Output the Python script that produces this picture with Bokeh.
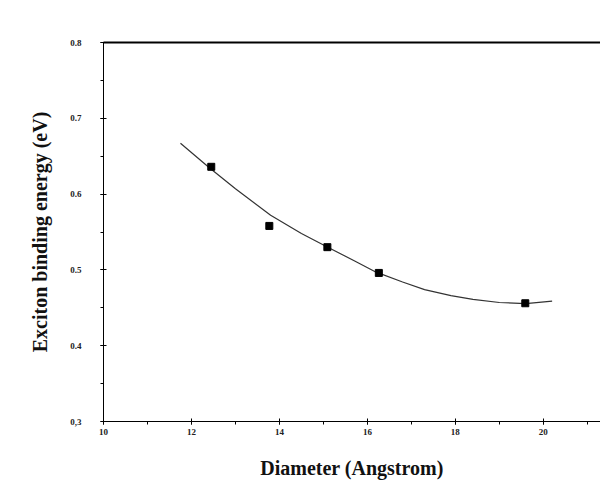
from bokeh.plotting import figure
from bokeh.models import Range1d, FixedTicker, LinearAxis
from bokeh.embed import file_html
from bokeh.resources import INLINE

# Measured data points
diameter = [12.45, 13.77, 15.09, 16.26, 19.59]
energy = [0.636, 0.558, 0.530, 0.496, 0.456]

# Fitted curve
fit_x = [11.75, 12.4, 13.0, 13.8, 14.5, 15.1, 15.7, 16.2, 16.8, 17.3, 17.9, 18.4, 19.0, 19.6, 20.2]
fit_y = [0.667, 0.635, 0.607, 0.572, 0.548, 0.530, 0.512, 0.497, 0.484, 0.474, 0.466, 0.461, 0.457, 0.4555, 0.4587]

x_ticks = [10, 12, 14, 16, 18, 20]
y_ticks = [0.3, 0.4, 0.5, 0.6, 0.7, 0.8]

FONT = "Liberation Serif"

p = figure(width=600, height=481, output_backend="svg", toolbar_location=None,
           x_range=Range1d(10, 21.3), y_range=Range1d(0.3, 0.8),
           min_border_left=103, min_border_right=0, min_border_top=42, min_border_bottom=0)
p.outline_line_color = None
p.grid.visible = False
p.background_fill_color = "white"

p.line(fit_x, fit_y, line_color="#333333", line_width=1.2)
p.scatter(diameter, energy, marker="square", size=7, color="black")

for ax in (p.xaxis[0], p.yaxis[0]):
    ax.axis_line_color = "black"
    ax.axis_line_width = 1
    ax.major_tick_in = 3
    ax.major_tick_out = 3
    ax.minor_tick_in = 0
    ax.minor_tick_out = 3
    ax.major_label_text_font = FONT
    ax.major_label_text_font_style = "bold"
    ax.major_label_text_font_size = "9px"
    ax.major_label_text_color = "#222222"
    ax.axis_label_text_font = FONT
    ax.axis_label_text_font_style = "bold"
    ax.axis_label_text_color = "#111111"

p.xaxis[0].ticker = FixedTicker(ticks=x_ticks, minor_ticks=list(range(10, 22)))
p.yaxis[0].ticker = FixedTicker(ticks=y_ticks, minor_ticks=[0.3 + 0.05 * i for i in range(11)])
p.yaxis[0].major_label_overrides = {0.3: "0,3", 0.4: "0.4", 0.5: "0.5", 0.6: "0.6", 0.7: "0.7", 0.8: "0.8"}

p.xaxis[0].axis_label = "Diameter (Angstrom)"
p.xaxis[0].axis_label_text_font_size = "20px"
p.xaxis[0].major_label_standoff = 4
p.xaxis[0].axis_label_standoff = 19

p.yaxis[0].axis_label = "Exciton binding energy (eV)"
p.yaxis[0].axis_label_text_font_size = "20px"
p.yaxis[0].major_label_standoff = 19
p.yaxis[0].axis_label_standoff = 16

top = LinearAxis(ticker=FixedTicker(ticks=[]), axis_line_width=2, axis_line_color="black",
                 major_label_text_font_size="0px", major_tick_out=0, major_tick_in=0,
                 minor_tick_out=0, minor_tick_in=0)
p.add_layout(top, "above")

open("out.html", "w").write(file_html(p, INLINE))
